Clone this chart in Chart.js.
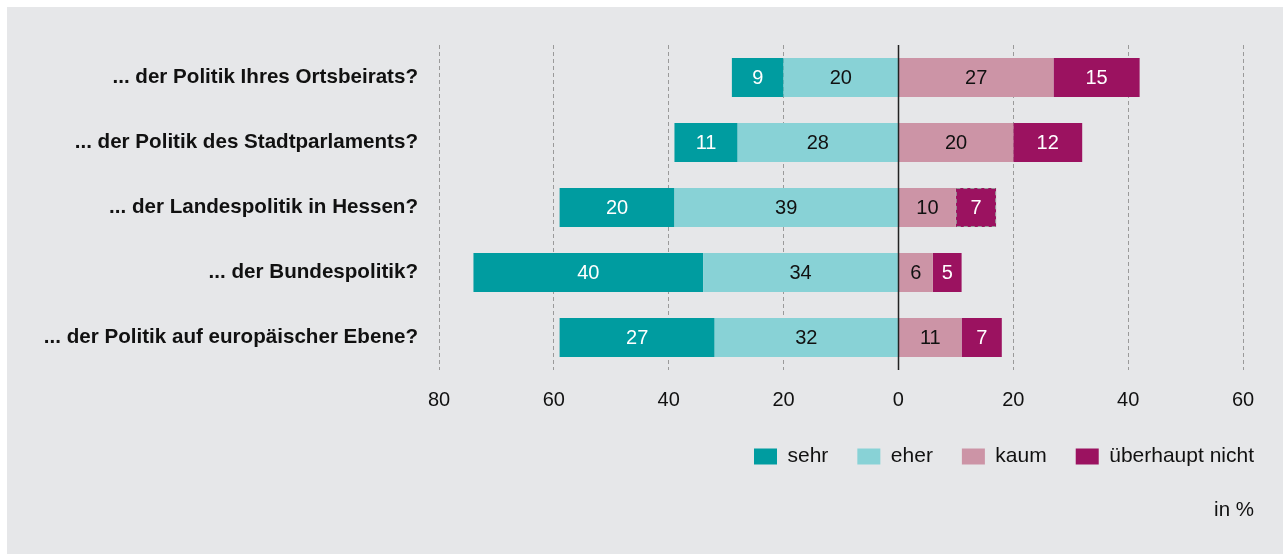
<!DOCTYPE html>
<html>
<head>
<meta charset="utf-8">
<script src="https://cdn.jsdelivr.net/npm/chart.js@4/dist/chart.umd.min.js"></script>
<style>
  html, body { margin: 0; padding: 0; background: #ffffff; }
  #c { display: block; }
</style>
</head>
<body>
<canvas id="c" width="1283" height="554"></canvas>
<script>
const categories = [
  '... der Politik Ihres Ortsbeirats?',
  '... der Politik des Stadtparlaments?',
  '... der Landespolitik in Hessen?',
  '... der Bundespolitik?',
  '... der Politik auf europäischer Ebene?'
];
const sehr = [9, 11, 20, 40, 27];
const eher = [20, 28, 39, 34, 32];
const kaum = [27, 20, 10, 6, 11];
const ueberhauptNicht = [15, 12, 7, 5, 7];
const legendOrder = ['sehr', 'eher', 'kaum', 'überhaupt nicht'];
const xTicks = [-80, -60, -40, -20, 0, 20, 40, 60];
const unitLabel = 'in %';
const dashedCell = { series: 'überhaupt nicht', categoryIndex: 2 };

const FONT = "'Liberation Sans', Arial, Helvetica, sans-serif";
const C_SEHR = '#009ca0', C_EHER = '#88d2d6', C_KAUM = '#cc94a6', C_UEB = '#9b1260';

const neg = a => a.map(v => -v);

const bgPlugin = {
  id: 'bg',
  beforeDraw(chart) {
    const ctx = chart.ctx;
    ctx.save();
    ctx.fillStyle = '#ffffff';
    ctx.fillRect(0, 0, chart.width, chart.height);
    ctx.fillStyle = '#e6e7e9';
    ctx.fillRect(7, 7, chart.width - 7, chart.height - 7);
    ctx.restore();
  }
};

const overlayPlugin = {
  id: 'overlay',
  afterDatasetsDraw(chart) {
    const ctx = chart.ctx;
    const xs = chart.scales.x;
    const area = chart.chartArea;
    chart.data.datasets.forEach((ds, di) => {
      if (ds.label !== dashedCell.series) return;
      const el = chart.getDatasetMeta(di).data[dashedCell.categoryIndex];
      if (!el) return;
      const left = Math.min(el.x, el.base), right = Math.max(el.x, el.base);
      const top = el.y - el.height / 2;
      ctx.save();
      ctx.strokeStyle = '#9a9a9a';
      ctx.lineWidth = 1;
      ctx.setLineDash([4, 3]);
      ctx.strokeRect(left + 0.5, top + 0.5, right - left - 1, el.height - 1);
      ctx.restore();
    });
    const x0 = Math.round(xs.getPixelForValue(0)) + 0.5;
    ctx.save();
    ctx.strokeStyle = '#222222';
    ctx.lineWidth = 1.5;
    ctx.beginPath();
    ctx.moveTo(x0, area.top);
    ctx.lineTo(x0, area.bottom);
    ctx.stroke();
    ctx.restore();
    ctx.save();
    ctx.font = '20px ' + FONT;
    ctx.textAlign = 'center';
    ctx.textBaseline = 'middle';
    chart.data.datasets.forEach((ds, di) => {
      const meta = chart.getDatasetMeta(di);
      meta.data.forEach((el, i) => {
        const v = Math.abs(ds.data[i]);
        const p = el.getCenterPoint();
        ctx.fillStyle = ds.labelColor;
        ctx.fillText(String(v), p.x, p.y + 1);
      });
    });
    ctx.restore();
  },
  afterDraw(chart) {
    const ctx = chart.ctx;
    ctx.save();
    ctx.font = '20.5px ' + FONT;
    ctx.fillStyle = '#111111';
    ctx.textAlign = 'right';
    ctx.textBaseline = 'middle';
    ctx.fillText(unitLabel, 1254, 510);
    ctx.restore();
  }
};

new Chart(document.getElementById('c'), {
  type: 'bar',
  data: {
    labels: categories,
    datasets: [
      { label: 'eher', data: neg(eher), backgroundColor: C_EHER, labelColor: '#111111' },
      { label: 'sehr', data: neg(sehr), backgroundColor: C_SEHR, labelColor: '#ffffff' },
      { label: 'kaum', data: kaum, backgroundColor: C_KAUM, labelColor: '#111111' },
      { label: 'überhaupt nicht', data: ueberhauptNicht, backgroundColor: C_UEB, labelColor: '#ffffff' }
    ].map(d => Object.assign(d, { barPercentage: 0.6, categoryPercentage: 1.0, borderWidth: 0 }))
  },
  options: {
    indexAxis: 'y',
    responsive: false,
    animation: false,
    devicePixelRatio: 1,
    layout: { padding: { top: 45, left: 0, right: 0, bottom: 77 } },
    scales: {
      x: {
        stacked: true,
        min: -80,
        max: 60,
        afterBuildTicks: s => { s.ticks = xTicks.map(v => ({ value: v })); },
        ticks: {
          callback: v => String(Math.abs(v)),
          font: { family: FONT, size: 20 },
          color: '#111111',
          padding: 18,
          maxRotation: 0
        },
        grid: {
          drawTicks: false,
          color: c => (c.tick && c.tick.value === 0) ? 'rgba(0,0,0,0)' : '#9a9a9a',
          lineWidth: 1
        },
        border: { display: false, dash: [4, 3] },
        afterFit: s => { s.height = 47; }
      },
      y: {
        stacked: true,
        ticks: {
          font: { family: FONT, size: 20.6, weight: 'bold' },
          color: '#111111',
          padding: 21
        },
        grid: { display: false, drawTicks: false },
        border: { display: false },
        afterFit: s => { s.width = 439; }
      },
      yR: {
        type: 'linear',
        position: 'right',
        display: true,
        ticks: { display: false },
        grid: { display: false, drawTicks: false },
        border: { display: false },
        afterFit: s => { s.width = 40; }
      }
    },
    plugins: {
      legend: {
        position: 'bottom',
        align: 'end',
        labels: {
          boxWidth: 23,
          boxHeight: 16,
          padding: 29,
          color: '#111111',
          font: { family: FONT, size: 21 },
          sort: (a, b) => legendOrder.indexOf(a.text) - legendOrder.indexOf(b.text)
        }
      },
      title: { display: false },
      tooltip: { enabled: false }
    }
  },
  plugins: [bgPlugin, overlayPlugin]
});
</script>
</body>
</html>
